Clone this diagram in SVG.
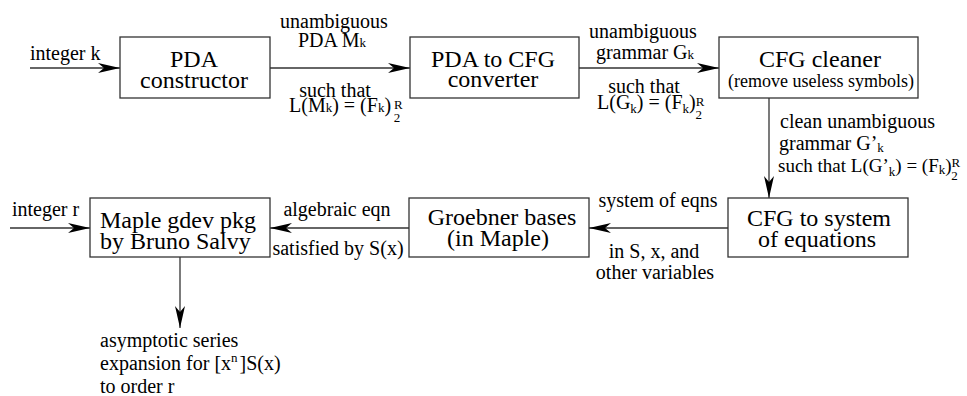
<svg xmlns="http://www.w3.org/2000/svg" width="967" height="396" viewBox="0 0 967 396">
<style>
.box{fill:#fff;stroke:#333;stroke-width:1.3}
.ln{stroke:#333;stroke-width:1.3;fill:none}
text{font-family:"Liberation Serif","Times New Roman","DejaVu Serif",serif;font-size:20px;fill:#000}
.b{font-size:24px}
.s{font-size:18px}
.sub{font-size:13px}
.m{text-anchor:middle}
</style>
<defs>
<marker id="ah" viewBox="0 0 22 10" refX="22" refY="5" markerWidth="22" markerHeight="10" markerUnits="userSpaceOnUse" orient="auto">
<path d="M0,0 L22,5 L0,10 L6,5 Z" fill="#000"/>
</marker>
</defs>
<rect width="967" height="396" fill="#fff"/>

<g id="connectors">
<line class="ln" x1="30" y1="68" x2="120" y2="68" marker-end="url(#ah)"/>
<line class="ln" x1="270" y1="68" x2="410" y2="68" marker-end="url(#ah)"/>
<line class="ln" x1="579" y1="68" x2="719" y2="68" marker-end="url(#ah)"/>
<line class="ln" x1="769" y1="98" x2="769" y2="198" marker-end="url(#ah)"/>
<line class="ln" x1="728" y1="228" x2="589" y2="228" marker-end="url(#ah)"/>
<line class="ln" x1="409" y1="228" x2="270" y2="228" marker-end="url(#ah)"/>
<line class="ln" x1="10" y1="228" x2="90" y2="228" marker-end="url(#ah)"/>
<line class="ln" x1="180" y1="257" x2="180" y2="328" marker-end="url(#ah)"/>

<text x="30" y="60">integer k</text>
<text class="m" x="334" y="28">unambiguous</text>
<text class="m" x="332" y="47">PDA M<tspan class="sub">k</tspan></text>
<text class="m" x="335" y="97">such that</text>
<text x="289" y="112">L(M<tspan class="sub">k</tspan>) = (F<tspan class="sub">k</tspan>)<tspan class="sub" dx="3" dy="-3">R</tspan><tspan class="sub" dx="-9" dy="13">2</tspan></text>

<text class="m" x="643" y="38">unambiguous</text>
<text class="m" x="645" y="59">grammar G<tspan class="sub">k</tspan></text>
<text class="m" x="644" y="93">such that</text>
<text x="597" y="109">L(G<tspan class="sub" dy="4">k</tspan><tspan dy="-4">) =  (F</tspan><tspan class="sub" dy="4">k</tspan><tspan dy="-4">)</tspan><tspan class="sub" dy="-3">R</tspan><tspan class="sub" dx="-9" dy="13">2</tspan></text>

<text x="780" y="128">clean unambiguous</text>
<text x="779" y="150">grammar G’<tspan class="sub" dy="2">k</tspan></text>
<text x="778" y="172" style="font-size:19px">such that L(G’<tspan class="sub" dy="4">k</tspan><tspan dy="-4">) = (F</tspan><tspan class="sub" dy="2">k</tspan><tspan dy="-2">)</tspan><tspan class="sub" dy="-5">R</tspan><tspan class="sub" dx="-9" dy="13">2</tspan></text>

<text class="m" x="658" y="207">system of eqns</text>
<text class="m" x="654" y="258">in S, x, and</text>
<text class="m" x="655" y="279">other variables</text>

<text class="m" x="337" y="216">algebraic eqn</text>
<text class="m" x="338" y="255">satisfied by S(x)</text>

<text x="12" y="216">integer r</text>

<text x="100" y="347">asymptotic series</text>
<text x="100" y="370">expansion for [x<tspan class="sub" dy="-8">n</tspan><tspan dx="2" dy="8">]S(x)</tspan></text>
<text x="100" y="393">to order r</text>
</g>

<g id="pda-constructor">
<rect class="box" x="120" y="37" width="150" height="61"/>
<text class="b m" x="194" y="67">PDA</text>
<text class="b m" x="194" y="88">constructor</text>
</g>

<g id="pda-to-cfg">
<rect class="box" x="410" y="37" width="169" height="61"/>
<text class="b m" x="493" y="67">PDA to CFG</text>
<text class="b m" x="493" y="87">converter</text>
</g>

<g id="cfg-cleaner">
<rect class="box" x="719" y="37" width="199" height="61"/>
<text class="b m" x="820" y="67">CFG cleaner</text>
<text class="s m" x="821" y="87">(remove useless symbols)</text>
</g>

<g id="cfg-to-system">
<rect class="box" x="728" y="198" width="180" height="59"/>
<text class="b m" x="819" y="226">CFG to system</text>
<text class="b m" x="817" y="247">of equations</text>
</g>

<g id="groebner">
<rect class="box" x="409" y="198" width="180" height="59"/>
<text class="b m" x="502" y="225">Groebner bases</text>
<text class="b m" x="498" y="246">(in Maple)</text>
</g>

<g id="maple-gdev">
<rect class="box" x="90" y="198" width="180" height="59"/>
<text class="b" x="100" y="228">Maple gdev pkg</text>
<text class="b" x="100" y="249">by Bruno Salvy</text>
</g>
</svg>
